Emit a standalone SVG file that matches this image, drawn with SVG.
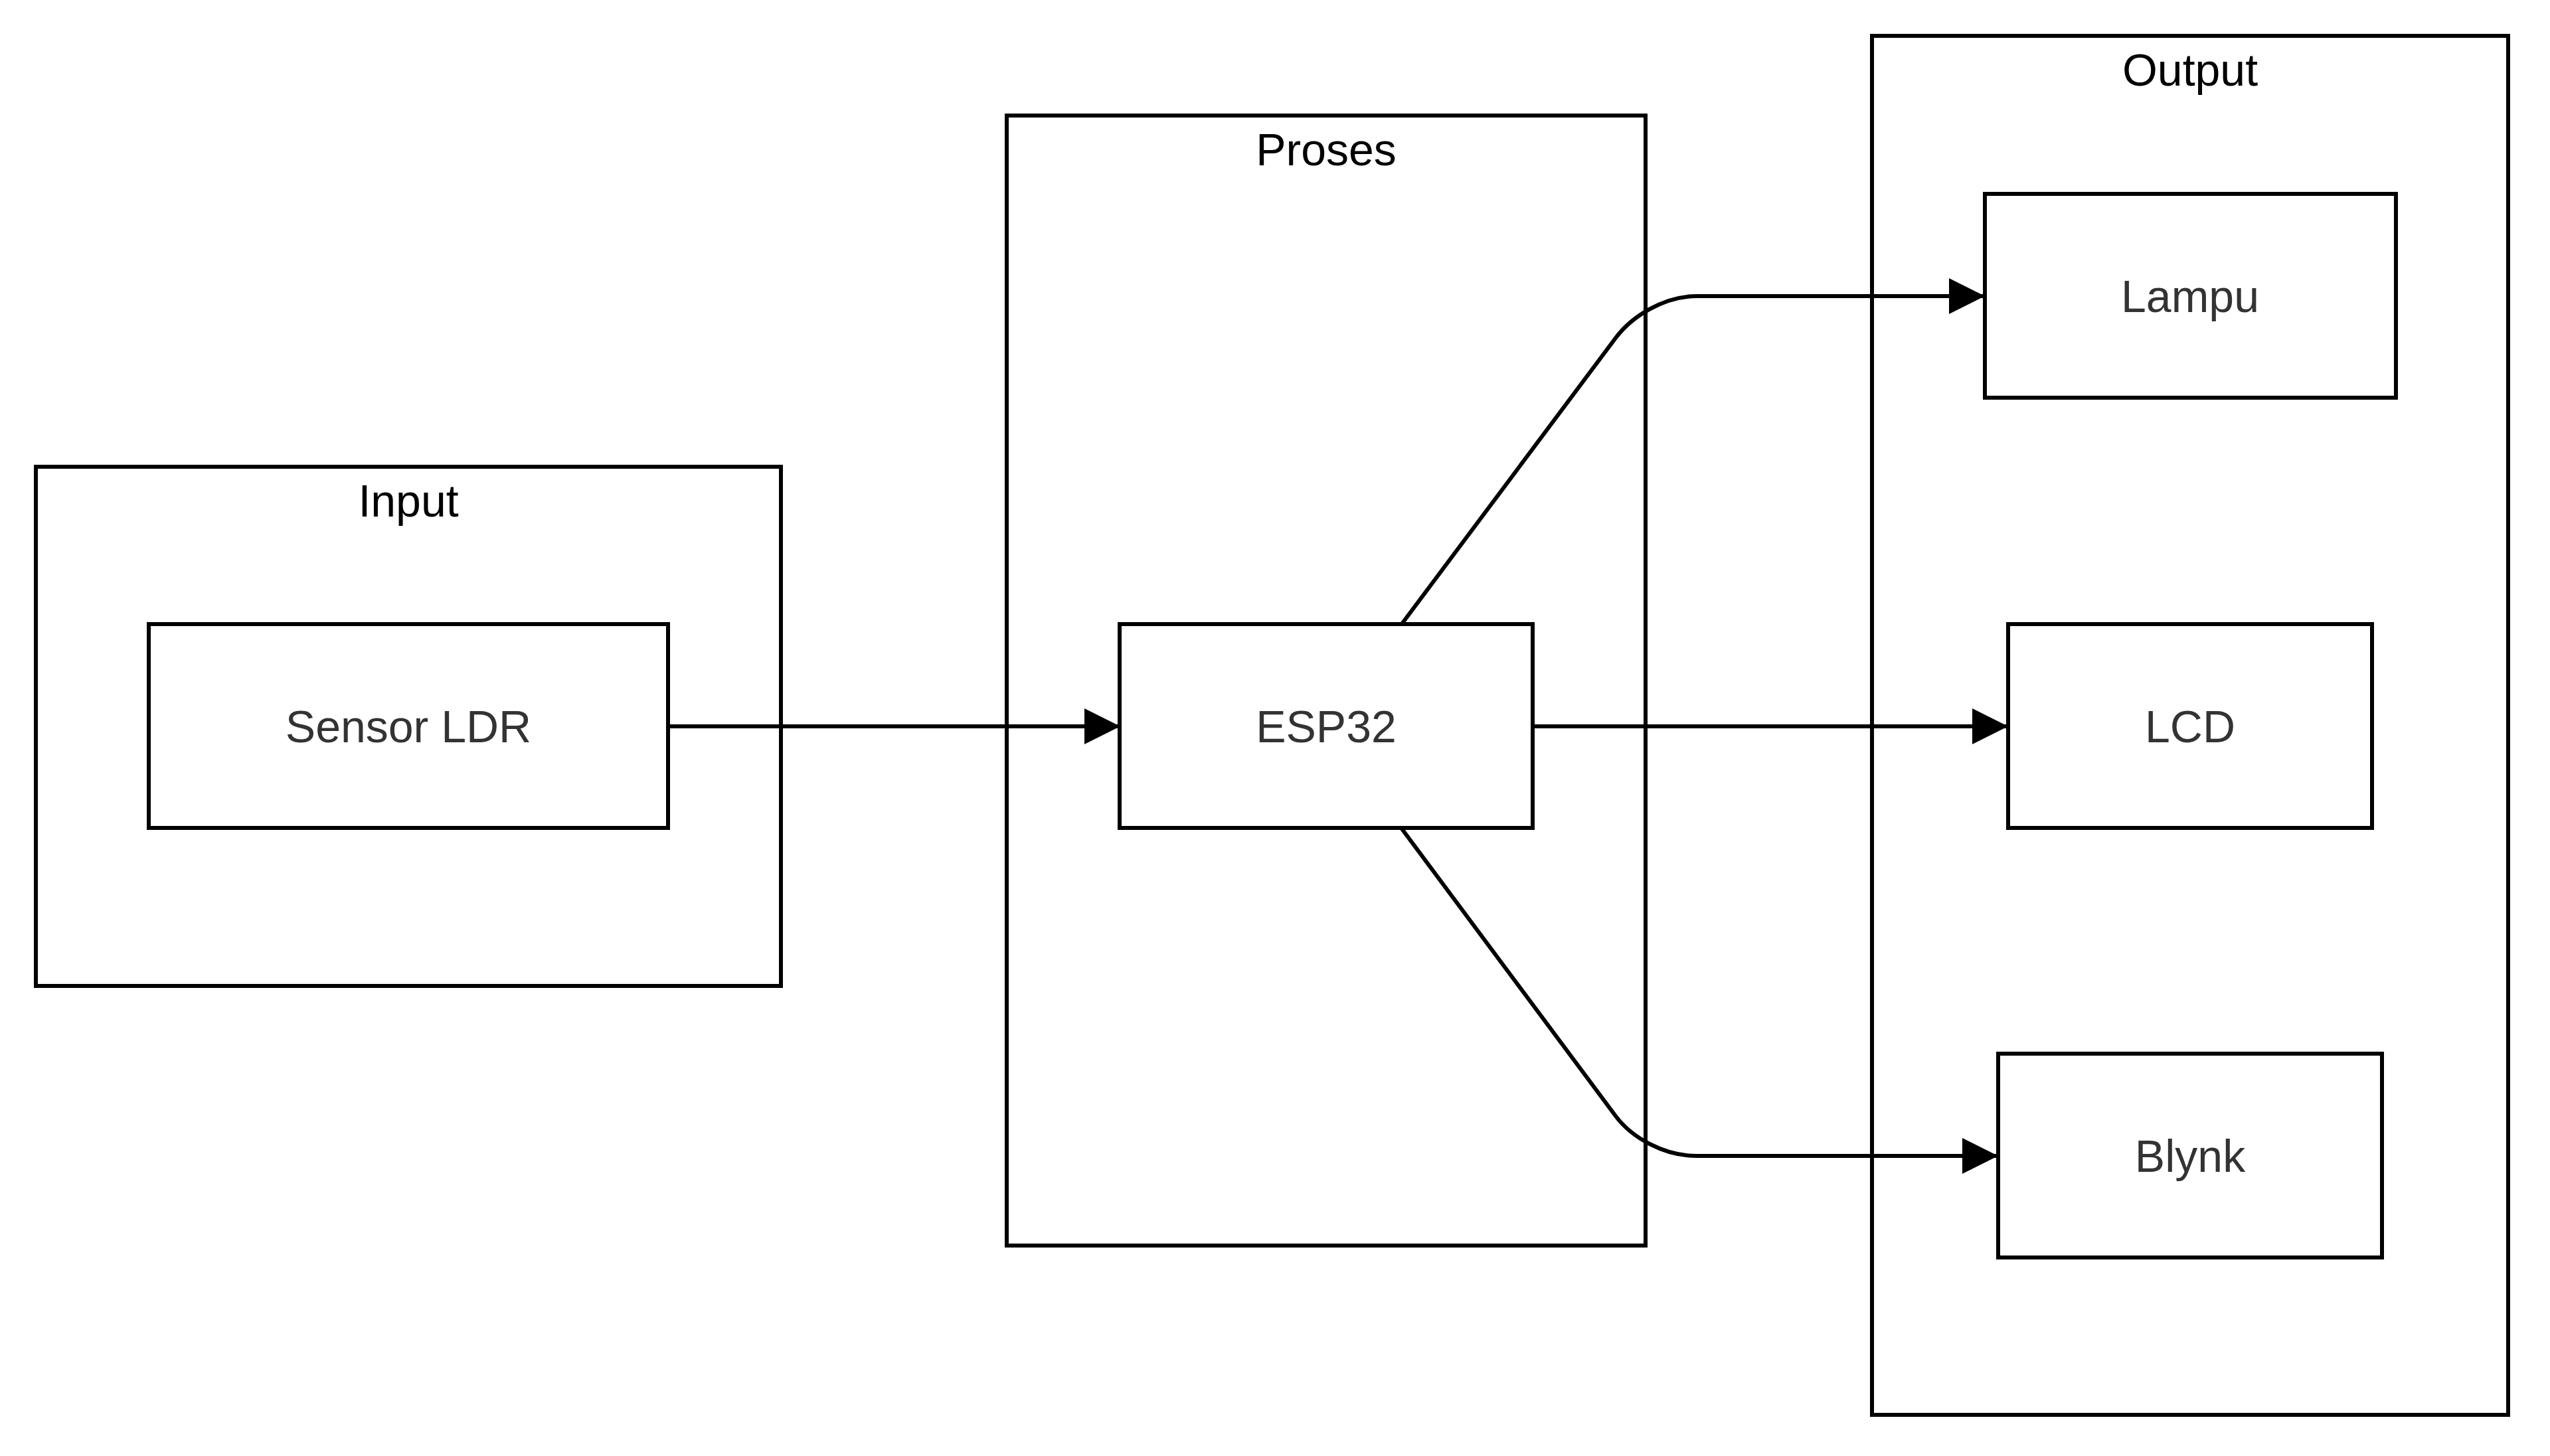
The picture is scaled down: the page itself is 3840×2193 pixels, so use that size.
<svg xmlns="http://www.w3.org/2000/svg" width="3840" height="2193" viewBox="0 0 3840 2193">
<style>
  .cluster { fill: #ffffff; stroke: #000000; stroke-width: 6; }
  .node { fill: #ffffff; stroke: #000000; stroke-width: 6; }
  .clabel { font-family: "Liberation Sans", Arial, sans-serif; font-size: 68px; fill: #000000; text-anchor: middle; }
  .nlabel { font-family: "Liberation Sans", Arial, sans-serif; font-size: 68px; fill: #333333; text-anchor: middle; }
  .edge { fill: none; stroke: #000000; stroke-width: 6; }
</style>
<defs>
  <marker id="arrow" viewBox="0 0 10 10" refX="10" refY="5" markerUnits="userSpaceOnUse" markerWidth="55" markerHeight="54" orient="auto">
    <path d="M0,0 L10,5 L0,10 z" fill="#000000"/>
  </marker>
</defs>
<rect width="3840" height="2193" fill="#ffffff"/>
<g id="cluster-input">
  <rect class="cluster" x="54" y="703" width="1122" height="782"/>
  <text class="clabel" x="615" y="778">Input</text>
</g>
<g id="cluster-proses">
  <rect class="cluster" x="1516" y="174" width="962" height="1702"/>
  <text class="clabel" x="1997" y="249">Proses</text>
</g>
<g id="cluster-output">
  <rect class="cluster" x="2819" y="54" width="958" height="2077"/>
  <text class="clabel" x="3298" y="129">Output</text>
</g>
<g id="connectors">
  <path class="edge" d="M1006,1094 L1687,1094" marker-end="url(#arrow)"/>
  <path class="edge" d="M2110,941 L2433,509 C2457,477 2505,446 2555,446 L2989,446" marker-end="url(#arrow)"/>
  <path class="edge" d="M2308,1094 L3024,1094" marker-end="url(#arrow)"/>
  <path class="edge" d="M2110,1247 L2433,1681 C2457,1713 2505,1741 2555,1741 L3009,1741" marker-end="url(#arrow)"/>
</g>
<g id="node-sensor">
  <rect class="node" x="224" y="940" width="782" height="307"/>
  <text class="nlabel" x="615" y="1118">Sensor LDR</text>
</g>
<g id="node-esp32">
  <rect class="node" x="1686" y="940" width="622" height="307"/>
  <text class="nlabel" x="1997" y="1118">ESP32</text>
</g>
<g id="node-lampu">
  <rect class="node" x="2989" y="292" width="619" height="307"/>
  <text class="nlabel" x="3298" y="470">Lampu</text>
</g>
<g id="node-lcd">
  <rect class="node" x="3024" y="940" width="548" height="307"/>
  <text class="nlabel" x="3298" y="1118">LCD</text>
</g>
<g id="node-blynk">
  <rect class="node" x="3009" y="1587" width="578" height="307"/>
  <text class="nlabel" x="3298" y="1765">Blynk</text>
</g>
</svg>
